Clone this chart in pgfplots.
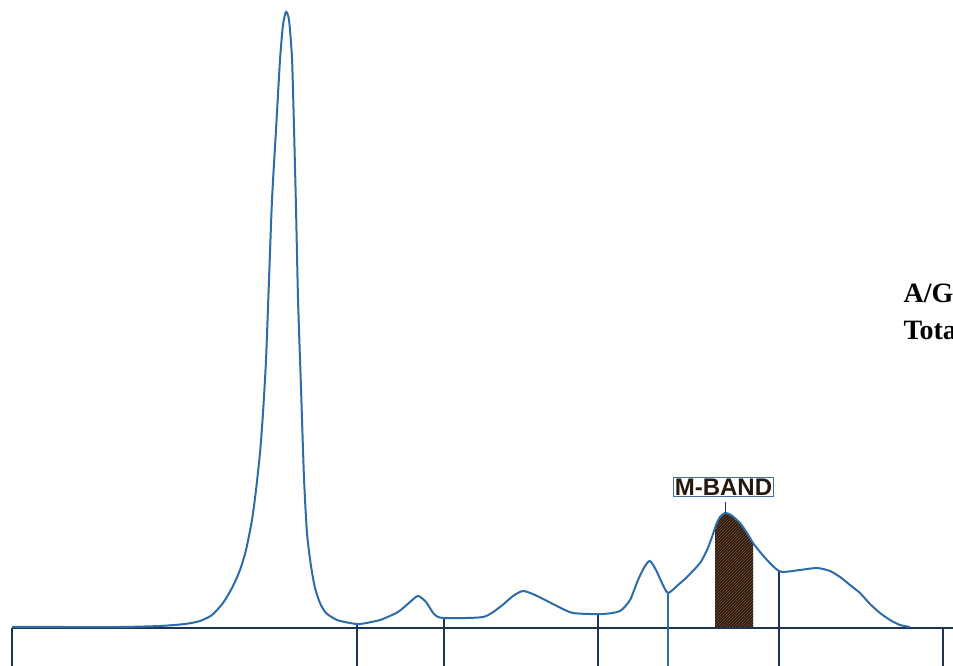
\documentclass[border=0pt]{standalone}
\usepackage{pgfplots}
\pgfplotsset{compat=1.18}
\usepackage{fontspec}
\setmainfont{Liberation Serif}
\newfontfamily\labelfont{Liberation Sans}
\usetikzlibrary{patterns}

\definecolor{trace}{RGB}{44,108,168}
\definecolor{rule}{RGB}{30,52,84}
\definecolor{mfill}{RGB}{38,24,14}
\definecolor{mhatch}{RGB}{130,82,48}
\definecolor{boxline}{RGB}{70,110,150}

\begin{document}
\begin{tikzpicture}
\begin{axis}[
    width=953pt, height=666pt,
    scale only axis,
    xmin=0, xmax=953,
    ymin=-38, ymax=628,
    hide axis,
    clip=false,
]

% hatched M-band under the trace
\addplot[draw=none, fill=mfill] coordinates {
    (715,0)(715,101)(716,103)(720,111)(725,115)(731,113)(740,105)(747,95)(753,85)(753,0)
} -- cycle;
\addplot[draw=none, pattern=north east lines, pattern color=mhatch] coordinates {
    (715,0)(715,101)(716,103)(720,111)(725,115)(731,113)(740,105)(747,95)(753,85)(753,0)
} -- cycle;

% baseline
\addplot[rule, line width=2pt] coordinates {(12,0)(953,0)};

% fraction dividers
\addplot[rule, line width=1.5pt] coordinates {(12,0)(12,-38)};
\addplot[rule, line width=1.5pt] coordinates {(357,4)(357,-38)};
\addplot[rule, line width=1.5pt] coordinates {(444,10)(444,-38)};
\addplot[rule, line width=1.5pt] coordinates {(598,14)(598,-38)};
\addplot[trace, line width=1.5pt] coordinates {(668,35)(668,-38)};
\addplot[rule, line width=1.5pt] coordinates {(779,57)(779,-38)};
\addplot[rule, line width=1.5pt] coordinates {(943,0)(943,-38)};

% densitometry trace
\addplot[trace, line width=2pt, smooth, tension=0.4] coordinates {
    (12,1)(60,1)(120,1)(160,2)(185,4)(200,7)(212,13)(223,25)(232,40)
    (240,58)(246,78)(252,108)(256,138)(260,175)(263,215)(266,268)
    (269,348)(272,428)(276,498)(280,568)(283,603)(286,616)
    (289,608)(292,570)(294,500)(296,420)(298,330)(301,240)(304,150)
    (307,95)(311,62)(315,40)(320,25)(326,15)(337,8)(350,5)(360,4)
    (380,8)(398,16)(410,26)(418,32)(426,26)(434,14)(443,10)(483,11)
    (500,21)(513,32)(523,37)(535,33)(555,23)(573,15)(603,14)(620,17)
    (630,28)(638,48)(645,62)(650,67)(656,58)(662,45)(668,35)(678,43)
    (687,51)(700,65)(707,78)(712,91)(716,103)(720,111)(725,115)(731,113)
    (740,105)(747,95)(753,85)(760,76)(767,68)(775,60)(782,56)(800,58)
    (817,60)(830,57)(840,51)(850,43)(860,35)(870,24)(880,15)(890,8)
    (900,3)(910,1)
};

% M-band label
\addplot[rule, line width=1pt] coordinates {(725,126)(725,115)};
\node[draw=boxline, line width=1.4pt, fill=white, inner sep=1.5pt,
      font=\labelfont\bfseries\fontsize{24}{24}\selectfont, text=mfill]
    at (axis cs:723.5,141) {M-BAND};

% side summary text (cut by the picture edge, as in the source)
\node[anchor=base west, align=left, font=\bfseries\fontsize{28}{37}\selectfont]
    at (axis cs:900,288) {A/G Ratio\\Total Protein};
\end{axis}
\pgfresetboundingbox
\path[use as bounding box] (0,0) rectangle (953pt,666pt);
\end{tikzpicture}
\end{document}
